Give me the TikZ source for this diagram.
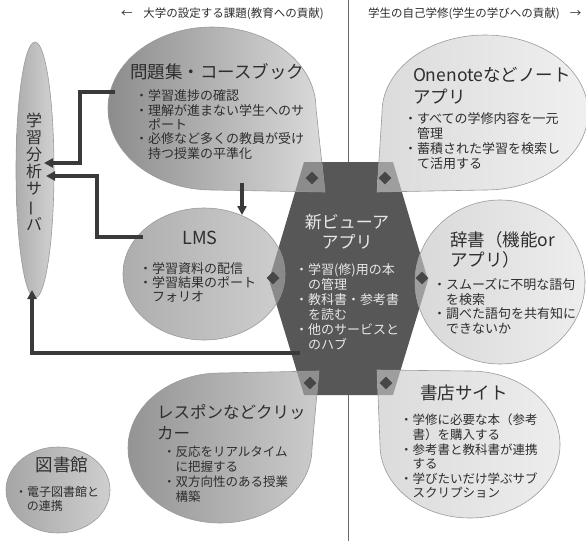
\documentclass[tikz,border=0pt]{standalone}
\usepackage{fontspec}
\usepackage{graphicx}
\newfontfamily\jp{Noto Sans CJK JP}
\usetikzlibrary{arrows.meta,shapes.geometric}
\definecolor{hexc}{HTML}{575757}
\definecolor{linec}{HTML}{3A3A3A}
\definecolor{txtc}{HTML}{2E2E2E}
\definecolor{hextxt}{HTML}{E8E8E8}
\definecolor{bord}{HTML}{9A9A9A}
\definecolor{dia}{HTML}{474747}
\definecolor{divc}{HTML}{6A6A6A}
\newcommand\fsz[2]{\fontsize{#1pt}{#2pt}\selectfont}
\newcommand\fstrut{\rule{0pt}{1em}}
\begin{document}
\begin{tikzpicture}[x=1pt,y=1pt,
  every node/.style={font=\jp},
  txt/.style={inner sep=0pt, outer sep=0pt, text=txtc, align=left, anchor=north west},
  ctxt/.style={inner sep=0pt, outer sep=0pt, text=txtc, align=center, anchor=north},
  conn/.style={draw=linec, line width=3.2pt, -{Triangle[length=9pt,width=9pt]}},
  bal/.style={draw=bord, line width=0.6pt},
  ell/.style={ellipse, inner sep=0pt, draw=bord, line width=0.6pt},
  dmd/.style={diamond, fill=dia, minimum width=13pt, minimum height=13pt, inner sep=0pt},
  pA/.style={insert path={(316,-108.5) arc[start angle=0,end angle=270,x radius=104pt,y radius=81.5pt] -- (325,-192) -- cycle}},
  pB/.style={insert path={(485,-190) arc[start angle=-90,end angle=180,x radius=103pt,y radius=77.5pt] -- (377,-192) -- cycle}},
  pC/.style={insert path={(220,-373) arc[start angle=90,end angle=360,x radius=92pt,y radius=75pt] -- (319,-371) -- cycle}},
  pD/.style={insert path={(380,-444.5) arc[start angle=180,end angle=450,x radius=90pt,y radius=73.5pt] -- (377,-370) -- cycle}},
  pH/.style={insert path={(304,-162) -- (393,-162) -- (428,-280) -- (393,-395) -- (304,-395) -- (269,-280) -- cycle}}
]
\useasboundingbox (0,0) rectangle (586,-541);
\fill[white] (0,0) rectangle (586,-541);

% divider
\coordinate (dtop) at (348,0);
\coordinate (dbot) at (348,-541);
\draw[divc, line width=0.8pt] (dtop) -- (dbot);

% header texts
\node[txt, font=\jp\fsz{11.5}{13}] (hl) at (121,-5.9) {\fstrut{}←\hspace{11pt}大学の設定する課題(教育への貢献)};
\node[txt, font=\jp\fsz{11.5}{13}] (hr) at (368,-5.9) {\fstrut{}学生の自己学修(学生の学びへの貢献)\hspace{10pt}→};

% hexagon
\fill[hexc, pH];

% balloons
\path[bal, pA, left color=black!45, right color=black!14];
\path[bal, pB, left color=black!14, right color=black!6];
\path[bal, pC, left color=black!42, right color=black!20];
\path[bal, pD, left color=black!14, right color=black!7];

% ellipses
\node[ell, minimum width=38pt, minimum height=256pt, left color=black!32, right color=black!18] (srv) at (35,-170) {};
\node[ell, minimum width=162pt, minimum height=132pt, left color=black!32, right color=black!19] (lms) at (204,-274) {};
\node[ell, minimum width=170pt, minimum height=164pt, left color=black!15, right color=black!7] (dict) at (500,-282) {};
\node[ell, minimum width=104pt, minimum height=86pt, left color=black!35, right color=black!19] (lib) at (58,-490) {};

% overlaps with the hexagon
\begin{scope}
  \path[clip, pH];
  \fill[black!45, pA];
  \fill[black!38, pB];
  \fill[black!44, pC];
  \fill[black!38, pD];
  \fill[black!46] (204,-274) ellipse[x radius=81pt, y radius=66pt];
  \fill[black!38] (500,-282) ellipse[x radius=85pt, y radius=82pt];
\end{scope}

% diamonds
\node[dmd] (d1) at (312,-178) {};
\node[dmd] (d2) at (385,-178) {};
\node[dmd] (d3) at (273,-278) {};
\node[dmd] (d4) at (422,-278) {};
\node[dmd] (d5) at (310,-383) {};
\node[dmd] (d6) at (386,-383) {};

% connector anchors
\coordinate (qL) at (115,-92);
\coordinate (qB) at (242,-183);
\coordinate (lmsT) at (242,-215);
\coordinate (lmsL) at (143,-237);
\coordinate (hexL) at (300,-353);
\coordinate (srvA) at (44,-163);
\coordinate (srvB) at (46,-176);
\coordinate (srvC) at (32,-290);

\draw[conn] (qL) -- ++(-35,0) |- (srvA);
\draw[conn] (lmsL) -- ++(-46,0) |- (srvB);
\draw[conn] (qB) -- (lmsT);
\draw[conn] (hexL) -| (srvC);

% server text
\node[ctxt, font=\jp\fsz{16}{17.2}] (srvT) at (34,-110) {\fstrut{}学\\習\\分\\析\\サ\\\rotatebox[origin=c]{90}{ー}\\バ};

% mondai
\node[txt, font=\jp\fsz{17.5}{22}] (qH) at (130,-61.2) {\fstrut{}問題集・コースブック};
\node[txt, font=\jp\fsz{13}{14.3}] (qT) at (135,-87.9) {\fstrut{}・学習進捗の確認\\・理解が進まない学生へのサ\\\hspace*{1em}ポート\\・必修など多くの教員が受け\\\hspace*{1em}持つ授業の平準化};

% onenote
\node[txt, font=\jp\fsz{17.5}{22}] (oH) at (413,-64.2) {\fstrut{}Onenoteなどノート\\アプリ};
\node[txt, font=\jp\fsz{13}{14.7}] (oT) at (404,-110.9) {\fstrut{}・すべての学修内容を一元\\\hspace*{1em}管理\\・蓄積された学習を検索し\\\hspace*{1em}て活用する};

% LMS
\node[inner sep=0pt, text=txtc, font=\jp\fsz{18}{20}] (lmsH) at (200,-238) {LMS};
\node[txt, font=\jp\fsz{13}{14}] (lmsTx) at (139,-260.9) {\fstrut{}・学習資料の配信\\・学習結果のポート\\\hspace*{1em}フォリオ};

% hex text
\node[ctxt, text=hextxt, font=\jp\fsz{17}{20}] (hexH) at (347,-211.5) {\fstrut{}新ビューア\\アプリ};
\node[txt, text=hextxt, font=\jp\fsz{13}{15}] (hexT) at (295,-261.9) {\fstrut{}・学習(修)用の本\\\hspace*{1em}の管理\\・教科書・参考書\\\hspace*{1em}を読む\\・他のサービスと\\\hspace*{1em}のハブ};

% dictionary
\node[txt, font=\jp\fsz{17.5}{20}] (dH) at (450,-229.2) {\fstrut{}辞書（機能or\\アプリ）};
\node[txt, font=\jp\fsz{13}{14.5}] (dT) at (433,-276.9) {\fstrut{}・スムーズに不明な語句\\\hspace*{1em}を検索\\・調べた語句を共有知に\\\hspace*{1em}できないか};

% responses / clicker
\node[txt, font=\jp\fsz{16.5}{21}] (rH) at (157,-401.8) {\fstrut{}レスポンなどクリッ\\カー};
\node[txt, font=\jp\fsz{12.5}{15}] (rT) at (163,-444.3) {\fstrut{}・反応をリアルタイム\\\hspace*{1em}に把握する\\・双方向性のある授業\\\hspace*{1em}構築};

% bookstore
\node[ctxt, font=\jp\fsz{17.5}{20}] (bH) at (464,-382.2) {\fstrut{}書店サイト};
\node[txt, font=\jp\fsz{12.5}{14.6}] (bT) at (400,-412.3) {\fstrut{}・学修に必要な本（参考\\\hspace*{1em}書）を購入する\\・参考書と教科書が連携\\\hspace*{1em}する\\・学びたいだけ学ぶサブ\\\hspace*{1em}スクリプション};

% library
\node[ctxt, font=\jp\fsz{17.5}{20}] (libH) at (62,-454.2) {\fstrut{}図書館};
\node[txt, font=\jp\fsz{12}{14}] (libT) at (15,-484.6) {\fstrut{}・電子図書館と\\\hspace*{1em}の連携};
\end{tikzpicture}
\end{document}
